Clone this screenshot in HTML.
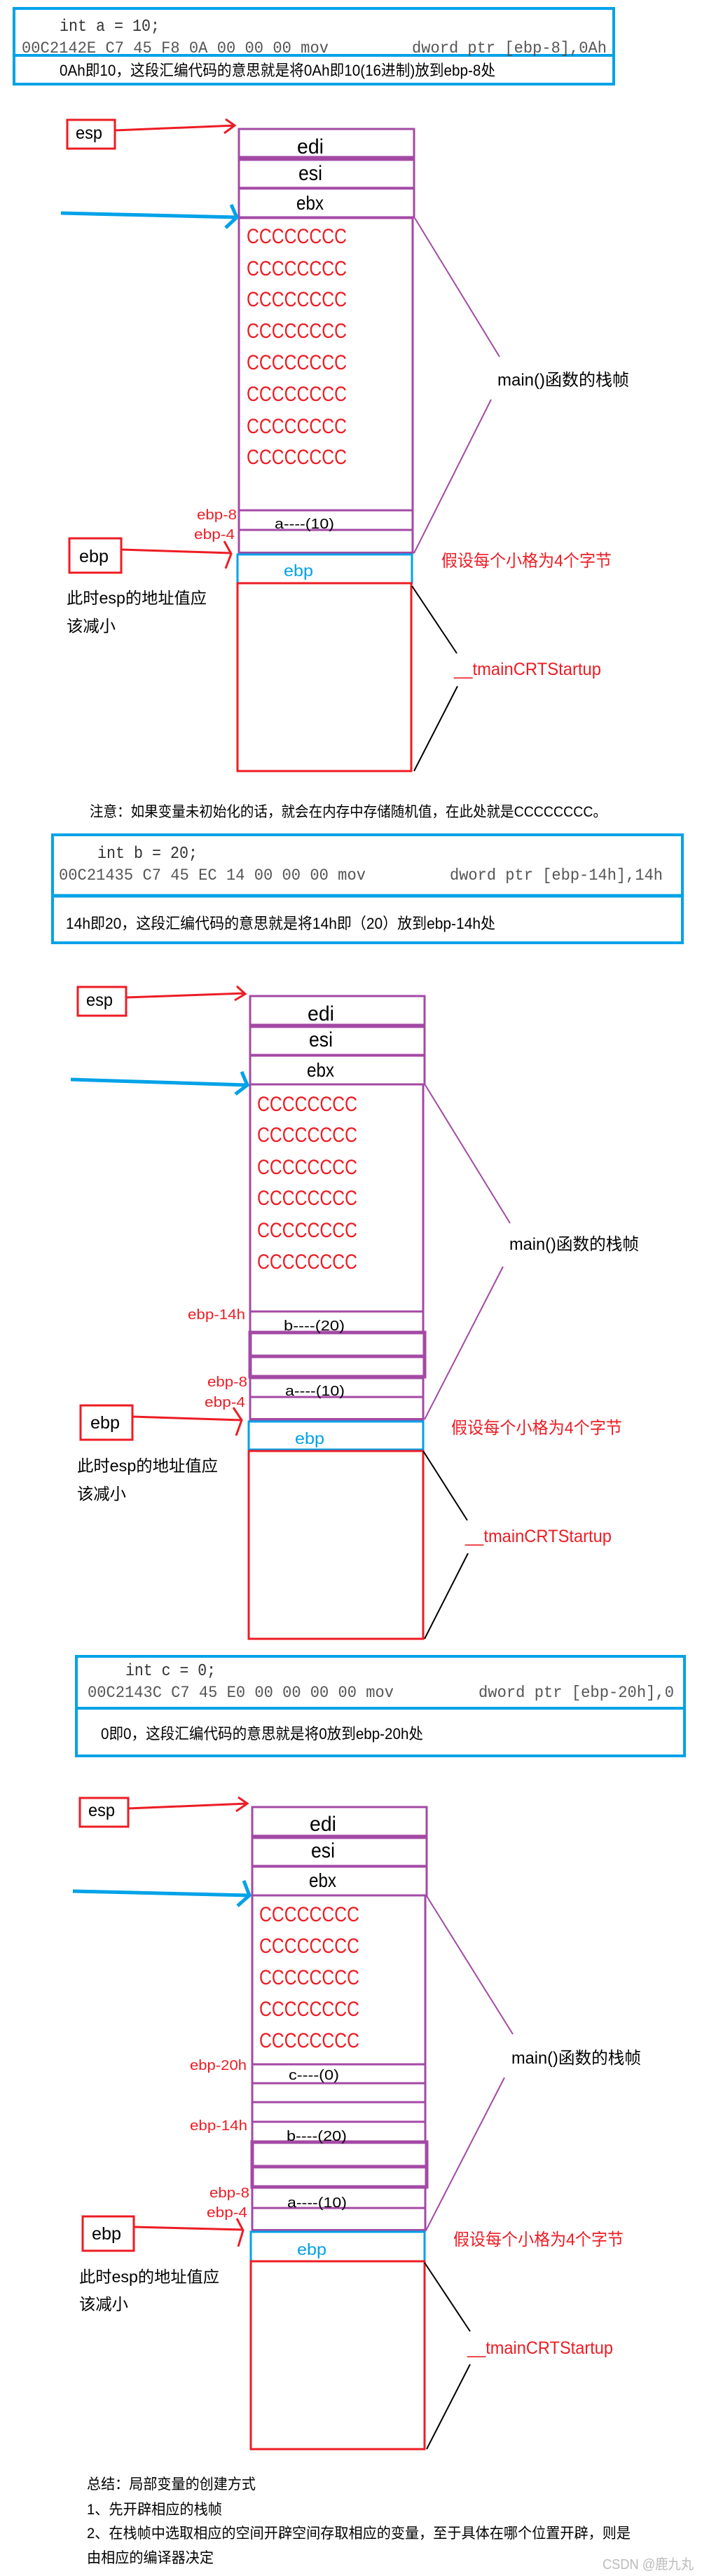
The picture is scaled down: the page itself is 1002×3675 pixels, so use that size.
<!DOCTYPE html>
<html><head><meta charset="utf-8"><style>
html,body{margin:0;padding:0;background:#fff;}
svg{display:block;}
text{font-family:"Liberation Sans","Noto Sans CJK SC",sans-serif;}
.m{font-family:"Liberation Mono","Noto Sans CJK SC",monospace;}
.pp{fill:none;stroke:#a349a4;stroke-width:3;}
.pt{fill:none;stroke:#a349a4;stroke-width:5;}
.bl{fill:none;stroke:#00a2e8;stroke-width:3;}
.rd{fill:none;stroke:#ed1c24;stroke-width:3;}
.bx{fill:none;stroke:#00a2e8;stroke-width:4;}
.ln{stroke:#a349a4;stroke-width:2;fill:none;}
.bk{stroke:#000;stroke-width:2;fill:none;}
.ra{stroke:#ed1c24;stroke-width:3;fill:none;}
.ba{stroke:#00a2e8;stroke-width:5;fill:none;}
</style></head><body>
<svg width="1002" height="3675" viewBox="0 0 1002 3675" xmlns="http://www.w3.org/2000/svg">
<rect width="1002" height="3675" fill="#fff"/>

<!-- ===== Panel 1 ===== -->
<rect class="bx" x="20" y="12" width="856" height="108"/>
<line x1="20" y1="79" x2="876" y2="79" stroke="#00a2e8" stroke-width="4"/>
<text class="m" x="85" y="44" font-size="24" fill="#333" textLength="143" lengthAdjust="spacingAndGlyphs">int a = 10;</text>
<text class="m" x="31" y="75" font-size="23" fill="#555" textLength="438" lengthAdjust="spacingAndGlyphs">00C2142E C7 45 F8 0A 00 00 00 mov</text>
<text class="m" x="588" y="75" font-size="23" fill="#555" textLength="278" lengthAdjust="spacingAndGlyphs">dword ptr [ebp-8],0Ah</text>
<text x="85" y="108" font-size="22" fill="#000" textLength="622" lengthAdjust="spacingAndGlyphs">0Ah即10，这段汇编代码的意思就是将0Ah即10(16进制)放到ebp-8处</text>

<rect class="rd" x="96" y="171" width="68" height="41"/>
<text x="108" y="198" font-size="25" textLength="38" lengthAdjust="spacingAndGlyphs">esp</text>
<path class="ra" d="M164 186 L335 179 M322 170 L335 179 L320 190"/>

<rect class="pp" x="341" y="184" width="250" height="41"/>
<line x1="341" y1="225" x2="591" y2="225" stroke="#a349a4" stroke-width="5"/>
<rect class="pp" x="341" y="228" width="250" height="40"/>
<rect class="pp" x="341" y="269" width="250" height="41"/>
<rect class="pp" x="341" y="311" width="248" height="417"/>
<rect class="pp" x="341" y="728" width="248" height="28"/>
<rect class="pp" x="341" y="756" width="248" height="33"/>
<line x1="341" y1="789" x2="589" y2="789" stroke="#a349a4" stroke-width="4"/>
<rect class="bl" x="339" y="791" width="249" height="41"/>
<rect class="rd" x="339" y="832" width="248" height="268"/>
<text x="424" y="219" font-size="30" textLength="38" lengthAdjust="spacingAndGlyphs">edi</text>
<text x="426" y="257" font-size="30" textLength="34" lengthAdjust="spacingAndGlyphs">esi</text>
<text x="423" y="299" font-size="28" textLength="39" lengthAdjust="spacingAndGlyphs">ebx</text>
<path class="ba" d="M87 304 L338 310 M330 292 L338 310 L322 325"/>
<g fill="#ed1c24" font-size="30">
<text x="352" y="347" textLength="143" lengthAdjust="spacingAndGlyphs">CCCCCCCC</text>
<text x="352" y="393" textLength="143" lengthAdjust="spacingAndGlyphs">CCCCCCCC</text>
<text x="352" y="437" textLength="143" lengthAdjust="spacingAndGlyphs">CCCCCCCC</text>
<text x="352" y="482" textLength="143" lengthAdjust="spacingAndGlyphs">CCCCCCCC</text>
<text x="352" y="527" textLength="143" lengthAdjust="spacingAndGlyphs">CCCCCCCC</text>
<text x="352" y="572" textLength="143" lengthAdjust="spacingAndGlyphs">CCCCCCCC</text>
<text x="352" y="618" textLength="143" lengthAdjust="spacingAndGlyphs">CCCCCCCC</text>
<text x="352" y="662" textLength="143" lengthAdjust="spacingAndGlyphs">CCCCCCCC</text>
</g>
<text x="281" y="741" font-size="20" fill="#ed1c24" textLength="57" lengthAdjust="spacingAndGlyphs">ebp-8</text>
<text x="277" y="769" font-size="20" fill="#ed1c24" textLength="58" lengthAdjust="spacingAndGlyphs">ebp-4</text>
<text x="392" y="754" font-size="20" textLength="85" lengthAdjust="spacingAndGlyphs">a----(10)</text>
<rect class="rd" x="99" y="768" width="74" height="49"/>
<text x="113" y="802" font-size="25" textLength="42" lengthAdjust="spacingAndGlyphs">ebp</text>
<path class="ra" d="M173 784 L330 789 M320 772 L330 790 L322 811"/>
<text x="405" y="822" font-size="23" fill="#00a2e8" textLength="42" lengthAdjust="spacingAndGlyphs">ebp</text>
<text x="95" y="861" font-size="23" textLength="200" lengthAdjust="spacingAndGlyphs">此时esp的地址值应</text>
<text x="95" y="901" font-size="23" textLength="70" lengthAdjust="spacingAndGlyphs">该减小</text>
<path class="ln" d="M592 311 L713 509 M701 570 L591 789"/>
<text x="710" y="550" font-size="24" textLength="188" lengthAdjust="spacingAndGlyphs">main()函数的栈帧</text>
<text x="630" y="808" font-size="24" fill="#ed1c24" textLength="243" lengthAdjust="spacingAndGlyphs">假设每个小格为4个字节</text>
<text x="648" y="963" font-size="25" fill="#ed1c24" textLength="210" lengthAdjust="spacingAndGlyphs">__tmainCRTStartup</text>
<path class="bk" d="M588 836 L652 932 M653 979 L591 1100"/>
<text x="128" y="1165" font-size="21" textLength="738" lengthAdjust="spacingAndGlyphs">注意：如果变量未初始化的话，就会在内存中存储随机值，在此处就是CCCCCCCC。</text>

<!-- ===== Panel 2 ===== -->
<rect class="bx" x="75" y="1191" width="899" height="154"/>
<line x1="75" y1="1278" x2="974" y2="1278" stroke="#00a2e8" stroke-width="5"/>
<text class="m" x="139" y="1224" font-size="24" fill="#333" textLength="143" lengthAdjust="spacingAndGlyphs">int b = 20;</text>
<text class="m" x="84" y="1255" font-size="23" fill="#555" textLength="438" lengthAdjust="spacingAndGlyphs">00C21435 C7 45 EC 14 00 00 00 mov</text>
<text class="m" x="642" y="1255" font-size="23" fill="#555" textLength="304" lengthAdjust="spacingAndGlyphs">dword ptr [ebp-14h],14h</text>
<text x="94" y="1325" font-size="22" textLength="613" lengthAdjust="spacingAndGlyphs">14h即20，这段汇编代码的意思就是将14h即（20）放到ebp-14h处</text>

<rect class="rd" x="111" y="1408" width="69" height="41"/>
<text x="123" y="1435" font-size="25" textLength="38" lengthAdjust="spacingAndGlyphs">esp</text>
<path class="ra" d="M180 1423 L350 1417 M338 1407 L350 1418 L335 1427"/>

<rect class="pp" x="357" y="1421" width="249" height="42"/>
<line x1="357" y1="1463" x2="606" y2="1463" stroke="#a349a4" stroke-width="5"/>
<rect class="pp" x="357" y="1465" width="249" height="40"/>
<rect class="pp" x="357" y="1506" width="249" height="41"/>
<rect class="pp" x="357" y="1547" width="247" height="324"/>
<rect class="pp" x="357" y="1871" width="247" height="30"/>
<rect class="pt" x="357" y="1901" width="249" height="34"/>
<rect class="pt" x="357" y="1935" width="249" height="29"/>
<rect class="pp" x="357" y="1966" width="247" height="27"/>
<rect class="pp" x="357" y="1993" width="247" height="32"/>
<line x1="357" y1="2025" x2="604" y2="2025" stroke="#a349a4" stroke-width="4"/>
<rect class="bl" x="355" y="2028" width="249" height="40"/>
<rect class="rd" x="355" y="2070" width="249" height="268"/>
<text x="439" y="1456" font-size="30" textLength="38" lengthAdjust="spacingAndGlyphs">edi</text>
<text x="441" y="1493" font-size="30" textLength="34" lengthAdjust="spacingAndGlyphs">esi</text>
<text x="438" y="1536" font-size="28" textLength="39" lengthAdjust="spacingAndGlyphs">ebx</text>
<path class="ba" d="M101 1540 L353 1548 M345 1529 L353 1548 L336 1561"/>
<g fill="#ed1c24" font-size="30">
<text x="367" y="1585" textLength="143" lengthAdjust="spacingAndGlyphs">CCCCCCCC</text>
<text x="367" y="1629" textLength="143" lengthAdjust="spacingAndGlyphs">CCCCCCCC</text>
<text x="367" y="1675" textLength="143" lengthAdjust="spacingAndGlyphs">CCCCCCCC</text>
<text x="367" y="1719" textLength="143" lengthAdjust="spacingAndGlyphs">CCCCCCCC</text>
<text x="367" y="1765" textLength="143" lengthAdjust="spacingAndGlyphs">CCCCCCCC</text>
<text x="367" y="1810" textLength="143" lengthAdjust="spacingAndGlyphs">CCCCCCCC</text>
</g>
<text x="268" y="1882" font-size="20" fill="#ed1c24" textLength="82" lengthAdjust="spacingAndGlyphs">ebp-14h</text>
<text x="405" y="1898" font-size="20" textLength="87" lengthAdjust="spacingAndGlyphs">b----(20)</text>
<text x="296" y="1978" font-size="20" fill="#ed1c24" textLength="57" lengthAdjust="spacingAndGlyphs">ebp-8</text>
<text x="407" y="1991" font-size="20" textLength="85" lengthAdjust="spacingAndGlyphs">a----(10)</text>
<text x="292" y="2007" font-size="20" fill="#ed1c24" textLength="58" lengthAdjust="spacingAndGlyphs">ebp-4</text>
<rect class="rd" x="115" y="2005" width="74" height="49"/>
<text x="129" y="2038" font-size="25" textLength="42" lengthAdjust="spacingAndGlyphs">ebp</text>
<path class="ra" d="M189 2021 L345 2026 M333 2008 L345 2026 L337 2048"/>
<text x="421" y="2060" font-size="23" fill="#00a2e8" textLength="42" lengthAdjust="spacingAndGlyphs">ebp</text>
<text x="110" y="2099" font-size="23" textLength="201" lengthAdjust="spacingAndGlyphs">此时esp的地址值应</text>
<text x="110" y="2139" font-size="23" textLength="70" lengthAdjust="spacingAndGlyphs">该减小</text>
<path class="ln" d="M607 1548 L728 1745 M718 1807 L606 2025"/>
<text x="727" y="1783" font-size="24" textLength="185" lengthAdjust="spacingAndGlyphs">main()函数的栈帧</text>
<text x="644" y="2045" font-size="24" fill="#ed1c24" textLength="244" lengthAdjust="spacingAndGlyphs">假设每个小格为4个字节</text>
<text x="664" y="2200" font-size="25" fill="#ed1c24" textLength="209" lengthAdjust="spacingAndGlyphs">__tmainCRTStartup</text>
<path class="bk" d="M604 2070 L667 2169 M668 2216 L606 2338"/>

<!-- ===== Panel 3 ===== -->
<rect class="bx" x="109" y="2363" width="868" height="142"/>
<line x1="109" y1="2437" x2="977" y2="2437" stroke="#00a2e8" stroke-width="4"/>
<text class="m" x="179" y="2390" font-size="24" fill="#333" textLength="129" lengthAdjust="spacingAndGlyphs">int c = 0;</text>
<text class="m" x="125" y="2421" font-size="23" fill="#555" textLength="437" lengthAdjust="spacingAndGlyphs">00C2143C C7 45 E0 00 00 00 00 mov</text>
<text class="m" x="683" y="2421" font-size="23" fill="#555" textLength="279" lengthAdjust="spacingAndGlyphs">dword ptr [ebp-20h],0</text>
<text x="144" y="2481" font-size="22" textLength="460" lengthAdjust="spacingAndGlyphs">0即0，这段汇编代码的意思就是将0放到ebp-20h处</text>

<rect class="rd" x="114" y="2565" width="69" height="41"/>
<text x="126" y="2591" font-size="25" textLength="38" lengthAdjust="spacingAndGlyphs">esp</text>
<path class="ra" d="M183 2580 L353 2573 M340 2564 L353 2573 L337 2584"/>

<rect class="pp" x="360" y="2578" width="249" height="42"/>
<line x1="360" y1="2620" x2="609" y2="2620" stroke="#a349a4" stroke-width="5"/>
<rect class="pp" x="360" y="2622" width="249" height="40"/>
<rect class="pp" x="360" y="2663" width="249" height="41"/>
<rect class="pp" x="360" y="2704" width="247" height="241"/>
<rect class="pp" x="360" y="2945" width="247" height="27"/>
<rect class="pp" x="360" y="2972" width="247" height="27"/>
<rect class="pp" x="360" y="2999" width="247" height="28"/>
<rect class="pp" x="360" y="3027" width="247" height="29"/>
<rect class="pt" x="360" y="3056" width="249" height="35"/>
<rect class="pt" x="360" y="3091" width="249" height="29"/>
<rect class="pp" x="360" y="3120" width="247" height="30"/>
<rect class="pp" x="360" y="3150" width="247" height="32"/>
<line x1="360" y1="3182" x2="607" y2="3182" stroke="#a349a4" stroke-width="4"/>
<rect class="bl" x="358" y="3184" width="248" height="42"/>
<rect class="rd" x="358" y="3226" width="248" height="268"/>
<text x="442" y="2612" font-size="30" textLength="38" lengthAdjust="spacingAndGlyphs">edi</text>
<text x="444" y="2650" font-size="30" textLength="34" lengthAdjust="spacingAndGlyphs">esi</text>
<text x="441" y="2692" font-size="28" textLength="39" lengthAdjust="spacingAndGlyphs">ebx</text>
<path class="ba" d="M104 2698 L356 2704 M348 2683 L356 2704 L339 2719"/>
<g fill="#ed1c24" font-size="30">
<text x="370" y="2741" textLength="143" lengthAdjust="spacingAndGlyphs">CCCCCCCC</text>
<text x="370" y="2786" textLength="143" lengthAdjust="spacingAndGlyphs">CCCCCCCC</text>
<text x="370" y="2831" textLength="143" lengthAdjust="spacingAndGlyphs">CCCCCCCC</text>
<text x="370" y="2876" textLength="143" lengthAdjust="spacingAndGlyphs">CCCCCCCC</text>
<text x="370" y="2921" textLength="143" lengthAdjust="spacingAndGlyphs">CCCCCCCC</text>
</g>
<text x="271" y="2953" font-size="20" fill="#ed1c24" textLength="81" lengthAdjust="spacingAndGlyphs">ebp-20h</text>
<text x="412" y="2967" font-size="20" textLength="72" lengthAdjust="spacingAndGlyphs">c----(0)</text>
<text x="271" y="3039" font-size="20" fill="#ed1c24" textLength="82" lengthAdjust="spacingAndGlyphs">ebp-14h</text>
<text x="409" y="3054" font-size="20" textLength="86" lengthAdjust="spacingAndGlyphs">b----(20)</text>
<text x="299" y="3135" font-size="20" fill="#ed1c24" textLength="57" lengthAdjust="spacingAndGlyphs">ebp-8</text>
<text x="410" y="3149" font-size="20" textLength="85" lengthAdjust="spacingAndGlyphs">a----(10)</text>
<text x="295" y="3163" font-size="20" fill="#ed1c24" textLength="58" lengthAdjust="spacingAndGlyphs">ebp-4</text>
<rect class="rd" x="118" y="3162" width="73" height="49"/>
<text x="131" y="3195" font-size="25" textLength="42" lengthAdjust="spacingAndGlyphs">ebp</text>
<path class="ra" d="M191 3177 L347 3181 M338 3165 L347 3182 L340 3205"/>
<text x="424" y="3217" font-size="23" fill="#00a2e8" textLength="42" lengthAdjust="spacingAndGlyphs">ebp</text>
<text x="113" y="3256" font-size="23" textLength="200" lengthAdjust="spacingAndGlyphs">此时esp的地址值应</text>
<text x="113" y="3295" font-size="23" textLength="70" lengthAdjust="spacingAndGlyphs">该减小</text>
<path class="ln" d="M609 2705 L732 2902 M720 2964 L608 3182"/>
<text x="730" y="2944" font-size="24" textLength="185" lengthAdjust="spacingAndGlyphs">main()函数的栈帧</text>
<text x="647" y="3203" font-size="24" fill="#ed1c24" textLength="243" lengthAdjust="spacingAndGlyphs">假设每个小格为4个字节</text>
<text x="667" y="3358" font-size="25" fill="#ed1c24" textLength="208" lengthAdjust="spacingAndGlyphs">__tmainCRTStartup</text>
<path class="bk" d="M606 3228 L671 3326 M671 3373 L609 3494"/>

<text x="124" y="3551" font-size="21" textLength="241" lengthAdjust="spacingAndGlyphs">总结：局部变量的创建方式</text>
<text x="124" y="3587" font-size="21" textLength="193" lengthAdjust="spacingAndGlyphs">1、先开辟相应的栈帧</text>
<text x="124" y="3621" font-size="21" textLength="776" lengthAdjust="spacingAndGlyphs">2、在栈帧中选取相应的空间开辟空间存取相应的变量，至于具体在哪个位置开辟，则是</text>
<text x="124" y="3656" font-size="21" textLength="181" lengthAdjust="spacingAndGlyphs">由相应的编译器决定</text>
<text x="860" y="3665" font-size="20" fill="#bbb" textLength="130" lengthAdjust="spacingAndGlyphs">CSDN @鹿九丸</text>
</svg>
</body></html>
